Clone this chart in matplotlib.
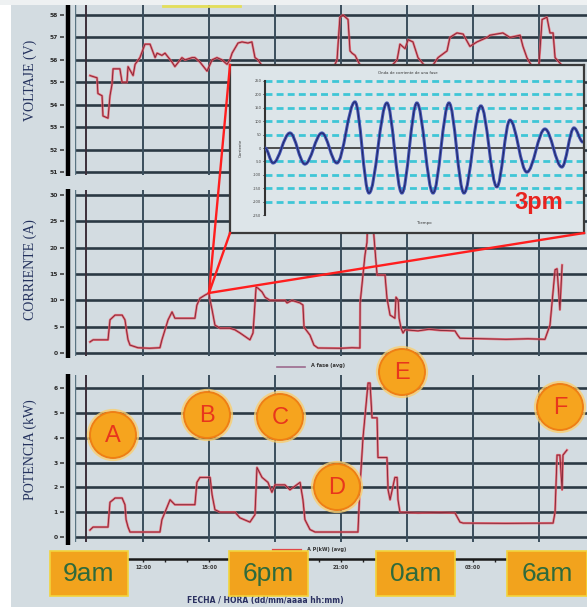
import matplotlib
matplotlib.use("Agg")
import matplotlib.pyplot as plt
from matplotlib.patches import Circle, Rectangle, PathPatch
from matplotlib.path import Path

# ---------------- data ----------------
volt_hours = [9.59, 9.91, 9.95, 10.14, 10.18, 10.41, 10.5, 10.59, 10.64, 10.95, 11.05, 11.27, 11.32,
              11.55, 11.64, 11.86, 12.09, 12.32, 12.55, 12.64, 12.86, 13.0, 13.32, 13.45, 13.77, 13.91,
              14.23, 14.36, 14.59, 14.91, 15.14, 15.36, 15.59, 15.82, 15.95, 16.05, 16.32, 16.5, 16.77,
              16.95, 17.09, 17.23, 17.5, 18.5, 19.5, 20.5, 20.82, 20.95, 21.09, 21.32, 21.41, 21.5,
              21.64, 22.0, 23.0, 23.55, 23.68, 23.91, 24.05, 24.27, 24.5, 25.0, 25.41, 25.82, 25.95,
              26.27, 26.55, 26.86, 27.18, 27.64, 27.77, 28.36, 28.68, 29.14, 29.27, 29.45, 29.8, 30.0,
              30.14, 30.36, 30.5, 30.64, 30.73, 31.0]
volt_values = [55.3, 55.2, 54.5, 54.4, 53.5, 53.4, 54.4, 54.9, 55.6, 55.6, 55.0, 55.0, 55.7,
               55.3, 55.8, 56.1, 56.7, 56.7, 56.1, 56.3, 56.2, 56.3, 55.9, 55.7, 56.1, 56.0,
               56.1, 56.1, 55.9, 55.5, 56.0, 56.1, 56.0, 55.8, 56.0, 56.3, 56.75, 56.8, 56.75,
               56.8, 56.1, 56.0, 55.6, 55.4, 55.5, 55.3, 56.0, 57.9, 58.0, 57.8, 56.4, 56.3,
               56.2, 55.5, 55.4, 56.0, 56.7, 56.5, 56.9, 56.8, 56.1, 55.5, 56.1, 56.4, 57.0,
               57.2, 57.15, 56.6, 56.8, 57.0, 57.1, 57.2, 57.0, 57.1, 56.6, 56.1, 55.5, 55.8,
               57.8, 57.9, 57.2, 57.2, 56.1, 55.8]

amp_hours = [9.59, 9.73, 10.41, 10.5, 10.73, 11.05, 11.18, 11.27, 11.32, 11.41, 11.77, 12.3, 12.77,
             12.86, 13.0, 13.14, 13.32, 13.45, 14.36, 14.45, 14.59, 14.82, 15.0, 15.05, 15.14, 15.27,
             15.5, 15.95, 16.18, 16.41, 16.86, 17.0, 17.14, 17.23, 17.41, 17.55, 17.77, 18.45, 18.55,
             18.77, 19.14, 19.27, 19.32, 19.59, 19.77, 19.95, 21.0, 21.5, 21.86, 21.87, 22.09, 22.18,
             22.23, 22.41, 22.5, 22.64, 23.0, 23.09, 23.23, 23.45, 23.5, 23.6, 23.64, 23.73, 23.82,
             23.91, 24.5, 25.0, 25.5, 26.18, 26.3, 26.41, 27.5, 28.5, 29.5, 30.27, 30.5, 30.73,
             30.82, 30.95, 31.05]
amp_values = [2.1, 2.5, 2.5, 6.3, 7.2, 7.2, 6.3, 3.8, 2.5, 1.5, 1.0, 0.9, 1.0,
              2.5, 4.4, 6.3, 7.8, 6.6, 6.6, 9.1, 10.4, 11.0, 11.4, 10.0, 8.2, 5.3,
              4.7, 4.7, 4.4, 3.8, 2.5, 3.8, 12.5, 12.3, 11.6, 10.6, 10.0, 10.0, 9.5,
              10.0, 9.5, 9.1, 4.9, 3.4, 1.5, 0.95, 0.9, 1.0, 0.95, 9.5, 18.6, 21.0,
              28.0, 27.0, 22.0, 14.8, 14.8, 10.4, 7.2, 6.6, 10.6, 10.0, 6.6, 4.7, 3.8,
              4.4, 4.2, 4.5, 4.3, 4.2, 3.4, 2.8, 2.7, 2.6, 2.7, 2.6, 5.3, 15.8,
              16.0, 8.2, 16.7]

kw_hours = [9.59, 9.73, 10.41, 10.5, 10.64, 10.73, 11.05, 11.18, 11.23, 11.32, 11.41, 12.77, 12.86,
            13.0, 13.23, 13.45, 14.36, 14.45, 14.59, 15.05, 15.14, 15.27, 15.5, 16.18, 16.41, 16.86,
            17.09, 17.18, 17.41, 17.68, 17.86, 18.0, 18.45, 18.68, 19.14, 19.27, 19.36, 19.59, 19.82,
            21.77, 21.86, 22.0, 22.23, 22.32, 22.41, 22.64, 22.68, 23.09, 23.14, 23.23, 23.45, 23.55,
            23.59, 23.68, 24.5, 25.5, 26.18, 26.41, 26.55, 28.5, 30.64, 30.73, 30.82, 30.95, 31.05,
            31.09, 31.27]
kw_values = [0.28, 0.4, 0.4, 1.4, 1.5, 1.57, 1.57, 1.3, 0.7, 0.4, 0.2, 0.2, 0.7,
             1.0, 1.5, 1.3, 1.3, 2.2, 2.4, 2.4, 1.7, 1.1, 1.0, 1.0, 0.77, 0.6,
             0.9, 2.8, 2.4, 2.2, 1.8, 2.1, 2.1, 1.9, 2.2, 1.5, 0.7, 0.3, 0.2,
             0.2, 2.0, 4.0, 6.2, 6.2, 4.8, 4.8, 3.2, 3.2, 1.9, 1.5, 2.4, 2.4,
             1.5, 1.0, 0.97, 0.99, 0.97, 0.6, 0.56, 0.55, 0.56, 1.0, 3.3, 3.3, 1.9,
             3.3, 3.5]

wave_ms = [0, 4.2, 13, 20.8, 29.6, 37.4, 46.8, 54.1, 63.4, 71.2, 79, 87.4, 95.7, 103.5,
           112.3, 120.6, 127.4, 136.2, 145.6, 154.4, 160.7, 165.4]
wave_amp = [0, -56, 56, -60, 56, -56, 172, -168, 168, -168, 168, -168, 168, -168,
            157, -145, 104, -90, 71, -71, 75, 22]

volt_ticks = [51, 52, 53, 54, 55, 56, 57, 58]
amp_ticks = [0, 5, 10, 15, 20, 25, 30]
kw_ticks = [0, 1, 2, 3, 4, 5, 6]
wave_ticks = [-250, -200, -150, -100, -50, 0, 50, 100, 150, 200, 250]

grid_hours = [12, 15, 18, 21, 24, 27, 30]
time_label_hours = [12, 15, 21, 27]
time_labels = ["12:00", "15:00", "21:00", "03:00"]
hour_minor = list(range(9, 33))
zoom_hour, zoom_amp = 15.0, 11.4

box_labels = ["9am", "6pm", "0am", "6am"]
circle_letters = ["A", "B", "C", "D", "E", "F"]

# ---------------- layout ----------------
W, H = 587, 607
fig = plt.figure(figsize=(W / 100, H / 100), dpi=100)
BG = '#d3dce1'
fig.patch.set_facecolor(BG)


def px_axes(l, t, r, b, **kw):
    return fig.add_axes([l / W, 1 - b / H, (r - l) / W, (b - t) / H], **kw)


PPH = 22.0  # pixels per hour
XL = (12 + (75 - 143) / PPH, 12 + (587 - 143) / PPH)
START_H = 12 + (86 - 143) / PPH


def style_panel(ax, ylim, ticks):
    ax.set_xlim(XL)
    ax.set_ylim(ylim)
    ax.set_facecolor('none')
    for s in ax.spines.values():
        s.set_visible(False)
    ax.spines['left'].set_position(('outward', 7.9))
    ax.set_yticks(ticks)
    ax.set_yticklabels([str(t) for t in ticks], fontsize=4.3, color='#2a2a2a',
                       fontweight='bold')
    ax.tick_params(axis='y', length=3, width=1.1, color='#333333', pad=1.5)
    ax.set_xticks([])
    for t in ticks:
        ax.axhline(t, color='#2b3944', lw=1.9, zorder=1)
    for h in grid_hours:
        ax.axvline(h, color='#3a4e5c', lw=1.4, zorder=1)
    ax.axvline(XL[0], color='#5a7482', lw=1.0, zorder=1)
    ax.axvline(START_H, color='#3b2f3a', lw=1.4, zorder=1)


def trace(ax, x, y):
    ax.plot(x, y, color='#ec5c68', lw=1.7, alpha=0.85, zorder=3)
    ax.plot(x, y, color='#7c2233', lw=0.6, zorder=4)


ax1 = px_axes(75, 5, 587, 175)
style_panel(ax1, (58 - (175 - 15) / 22.43, 58 + 10 / 22.43), volt_ticks)
trace(ax1, volt_hours, volt_values)

ax2 = px_axes(75, 190, 587, 356)
style_panel(ax2, (-3 / 5.267, 30 + 5 / 5.267), amp_ticks)
trace(ax2, amp_hours, amp_values)

ax3 = px_axes(75, 375, 587, 542)
style_panel(ax3, (-5 / 24.83, 6 + 13 / 24.83), kw_ticks)
trace(ax3, kw_hours, kw_values)

# bottom time axis
axt = px_axes(75, 555, 587, 559)
axt.set_xlim(XL)
axt.set_facecolor('none')
for k, s in axt.spines.items():
    s.set_visible(k == 'bottom')
axt.spines['bottom'].set_linewidth(1.8)
axt.spines['bottom'].set_color('#1a1a1a')
axt.set_yticks([])
axt.set_xticks(time_label_hours)
axt.set_xticklabels(time_labels, fontsize=3.6, color='#333333', fontweight='bold')
axt.set_xticks(hour_minor, minor=True)
axt.tick_params(axis='x', which='both', length=2, width=1, color='#222222', pad=2)

# inset
frame = px_axes(230, 65, 584, 233)
frame.set_facecolor('#dde5e9')
frame.set_xticks([])
frame.set_yticks([])
for s in frame.spines.values():
    s.set_color('#3a3a3a')
    s.set_linewidth(1.6)

ins = px_axes(265, 78, 583, 218)
ins.set_facecolor('none')
ins.set_xlim(wave_ms[0], wave_ms[-1])
ins.set_ylim(-261, 261)
for k, s in ins.spines.items():
    s.set_visible(k == 'left')
ins.spines['left'].set_bounds(-250, 250)
ins.spines['left'].set_color('#333333')
ins.spines['left'].set_linewidth(1.5)
ins.set_xticks([])
ins.set_yticks(wave_ticks)
ins.set_yticklabels([str(t) for t in wave_ticks], fontsize=2.6, color='#444444')
ins.tick_params(axis='y', length=1.5, width=0.6, pad=1)
for v in wave_ticks:
    if v in (0, -250):
        continue
    ins.axhline(v, color='#3fc6d6', lw=2.0, ls=(0, (2.5, 1.5)), zorder=1)
ins.axhline(0, color='#333333', lw=1.2, zorder=2)

verts = [(wave_ms[0], wave_amp[0])]
codes = [Path.MOVETO]
for i in range(1, len(wave_ms)):
    dt = wave_ms[i] - wave_ms[i - 1]
    verts += [(wave_ms[i - 1] + 0.36 * dt, wave_amp[i - 1]),
              (wave_ms[i] - 0.36 * dt, wave_amp[i]),
              (wave_ms[i], wave_amp[i])]
    codes += [Path.CURVE4] * 3
wpath = Path(verts, codes)
ins.add_patch(PathPatch(wpath, fc='none', ec='#4454b4', lw=2.2, zorder=3))
ins.add_patch(PathPatch(wpath, fc='none', ec='#1f2766', lw=0.7, zorder=4))
ins.text(0.45, 1.02, "Onda de corriente de una fase", transform=ins.transAxes,
         fontsize=2.8, ha='center', va='bottom', color='#333333')
ins.text(0.5, -0.02, "Tiempo", transform=ins.transAxes, fontsize=2.8,
         ha='center', va='top', color='#333333')
ins.text(-0.075, 0.5, "Corriente", transform=ins.transAxes, fontsize=2.8,
         ha='center', va='center', rotation=90, color='#333333')
ins.text(0.86, 0.03, "3pm", transform=ins.transAxes, fontsize=17, fontweight='bold',
         ha='center', va='bottom', color='#e8231f', family='Liberation Sans')

# overlay in pixel coordinates
ov = fig.add_axes([0, 0, 1, 1])
ov.set_xlim(0, W)
ov.set_ylim(H, 0)
ov.set_facecolor('none')
ov.axis('off')

ov.add_patch(Rectangle((0, 0), 11, H, fc='white', ec='none', zorder=0))
ov.add_patch(Rectangle((0, 0), W, 4.5, fc='#eef1f2', ec='none', zorder=0))
ov.plot([163, 240], [5.5, 5.5], color='#e4df5a', lw=2, zorder=1)

for (y0, y1) in [(5, 176), (189, 358), (374, 545)]:
    ov.plot([68, 68], [y0, y1], color='black', lw=3.2, solid_capstyle='butt', zorder=2)

# zoom lines from current trace to inset corners
to_ov = ov.transData.inverted()
ax_pt = to_ov.transform(ax2.transData.transform((zoom_hour, zoom_amp)))
for corner in [(0, 1), (0, 0), (1, 0)]:
    cp = to_ov.transform(frame.transAxes.transform(corner))
    ov.plot([ax_pt[0], cp[0]], [ax_pt[1], cp[1]], color='#ff1e1e', lw=1.7, zorder=3)

# legends
ov.plot([277, 305], [367, 367], color='#9c6a8e', lw=1.2, zorder=3)
ov.text(311, 366, "A fase (avg)", fontsize=3.6, va='center', color='#333333', fontweight='bold')
ov.plot([273, 301], [550, 550], color='#e04848', lw=1.6, zorder=3)
ov.text(307, 549.5, "A P(kW) (avg)", fontsize=3.6, va='center', color='#333333', fontweight='bold')

# axis titles
for txt, yc in [("VOLTAJE (V)", 80), ("CORRIENTE (A)", 270), ("POTENCIA (kW)", 450)]:
    ov.text(30, yc, txt, rotation=90, ha='center', va='center', fontsize=10,
            family='Liberation Serif', color='#22305c')

# circles
circle_pos = [(113, 435), (207, 415), (280, 417), (337, 487), (402, 372), (560, 407)]
for letter, (cx, cy) in zip(circle_letters, circle_pos):
    ov.add_patch(Circle((cx, cy), 25, fc='none', ec='#f9cf70', lw=1.6, alpha=0.8, zorder=5))
    ov.add_patch(Circle((cx, cy), 23, fc='#f6a41e', ec='#ef7f14', lw=1.4, zorder=6))
    ov.text(cx, cy + 1, letter, ha='center', va='center', fontsize=17,
            color='#e8361c', family='Liberation Sans', zorder=7)

# orange time boxes
box_pos = [(50, 128), (229, 308), (376, 455), (507, 587)]
for lab, (x0, x1) in zip(box_labels, box_pos):
    ov.add_patch(Rectangle((x0, 551), x1 - x0, 45, fc='#f2a31d', ec='#f2d43c',
                           lw=1.2, zorder=8))
    ov.text((x0 + x1) / 2, 574, lab, ha='center', va='center', fontsize=19,
            color='#2e6a3c', family='Liberation Sans', zorder=9)

ov.text(265, 605.5, "FECHA / HORA (dd/mm/aaaa hh:mm)", ha='center', va='bottom', fontsize=5.5,
        color='#2a3060', fontweight='bold', zorder=2)

fig.savefig("out.png", dpi=100, facecolor=fig.get_facecolor())
